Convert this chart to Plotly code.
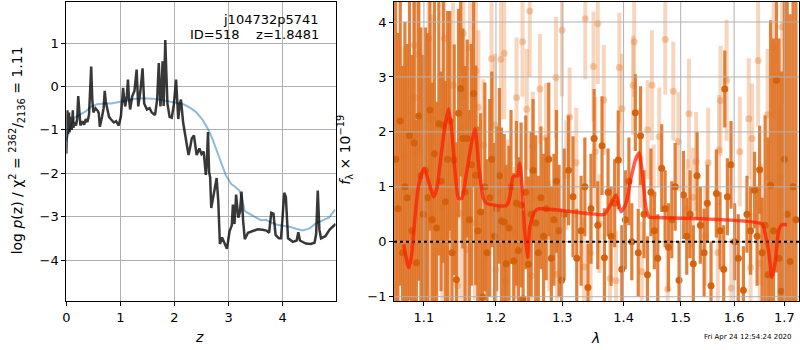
import plotly.graph_objects as go

# ---------------- left panel data ----------------
z_lnp = [0.00, 0.01, 0.02, 0.03, 0.05, 0.06, 0.08, 0.10, 0.12, 0.13, 0.15, 0.18, 0.20, 0.22, 0.24, 0.26,
         0.30, 0.33, 0.36, 0.39, 0.42, 0.44, 0.46, 0.48, 0.50, 0.54, 0.58, 0.60, 0.62, 0.66, 0.69, 0.71,
         0.73, 0.76, 0.79, 0.82, 0.88, 0.92, 0.97, 1.01, 1.03, 1.05, 1.07, 1.09, 1.12, 1.14, 1.16, 1.18,
         1.22, 1.26, 1.30, 1.33, 1.37, 1.41, 1.44, 1.49, 1.54, 1.58, 1.64, 1.68, 1.71, 1.74, 1.76, 1.78,
         1.80, 1.83, 1.85, 1.87, 1.91, 1.95, 1.99, 2.03, 2.05, 2.07, 2.10, 2.12, 2.16, 2.21, 2.26, 2.29,
         2.32, 2.36, 2.41, 2.46, 2.50, 2.54, 2.58, 2.60, 2.62, 2.64, 2.66, 2.68, 2.72, 2.75, 2.78, 2.81,
         2.84, 2.88, 2.92, 2.97, 3.02, 3.06, 3.08, 3.11, 3.14, 3.18, 3.21, 3.24, 3.27, 3.30, 3.36, 3.45,
         3.54, 3.63, 3.70, 3.75, 3.79, 3.83, 3.87, 3.93, 3.97, 4.00, 4.03, 4.06, 4.10, 4.19, 4.26, 4.29,
         4.32, 4.43, 4.52, 4.59, 4.62, 4.65, 4.68, 4.71, 4.79, 4.87, 4.98]
logp = [-1.55, -1.00, -0.55, -1.10, -0.60, -1.05, -0.70, -1.00, -0.55, -0.95, -0.82, -0.90, -0.75, -0.22, -0.50, -0.90,
        -0.80, -0.88, -0.75, -0.82, -0.65, -0.20, 0.46, -0.30, -0.60, -0.50, -0.56, -0.62, -0.93, -0.70, -0.50, -0.10,
        -0.35, -0.53, -0.70, -0.75, -0.83, -0.80, -0.90, -0.68, -0.35, -0.03, -0.30, -0.46, -0.20, 0.16, -0.30, -0.53,
        -0.22, -0.10, 0.39, -0.46, -0.10, 0.42, -0.39, -0.53, -0.50, -0.60, -0.66, -0.30, 0.54, -0.46, -0.10, 0.58,
        -0.45, 1.07, 0.30, -0.40, -0.70, -0.72, -0.40, 0.16, -0.30, -0.75, -0.40, -0.30, -0.83, -1.20, -1.58, -1.40,
        -1.20, -1.13, -1.58, -1.43, -1.56, -1.50, -2.04, -1.70, -1.05, -1.97, -2.10, -2.80, -2.50, -2.30, -2.11, -2.64,
        -3.63, -3.48, -3.60, -3.74, -3.33, -3.20, -2.72, -3.17, -2.49, -3.02, -2.90, -2.42, -3.10, -3.52, -3.37, -3.33,
        -3.29, -3.30, -3.32, -3.37, -2.91, -2.93, -3.42, -3.50, -3.50, -3.00, -2.45, -2.55, -3.50, -3.58, -3.55, -3.36,
        -3.55, -3.62, -3.63, -3.60, -3.40, -2.40, -3.30, -3.50, -3.45, -3.30, -3.17]

z_chi = [0.00, 0.05, 0.09, 0.15, 0.24, 0.35, 0.45, 0.57, 0.70, 0.83, 1.00, 1.19, 1.38, 1.60, 1.80, 2.00,
         2.17, 2.30, 2.40, 2.52, 2.62, 2.70, 2.77, 2.85, 2.95, 3.05, 3.11, 3.20, 3.25, 3.30, 3.40, 3.51,
         3.60, 3.69, 3.78, 3.88, 4.00, 4.12, 4.25, 4.37, 4.50, 4.61, 4.75, 4.86, 4.97]
chi_scaled = [-1.25, -1.05, -0.88, -0.72, -0.66, -0.58, -0.47, -0.41, -0.39, -0.39, -0.35, -0.30, -0.27, -0.28, -0.32, -0.36,
              -0.41, -0.50, -0.59, -0.77, -0.98, -1.20, -1.43, -1.72, -2.05, -2.25, -2.30, -2.40, -2.60, -2.87, -2.95, -3.02,
              -3.08, -3.07, -3.13, -3.18, -3.21, -3.23, -3.28, -3.32, -3.27, -3.16, -3.08, -3.02, -2.84]

left_xticks = [0, 1, 2, 3, 4]
left_yticks = [-4, -3, -2, -1, 0, 1]
left_xrange = [0, 4.98]
left_yrange = [-4.953, 1.957]

# ---------------- right panel data ----------------
lam_dark = [1.063, 1.066, 1.069, 1.072, 1.075, 1.078, 1.081, 1.084, 1.087, 1.090, 1.093, 1.096, 1.099,
            1.102, 1.105, 1.108, 1.111, 1.114, 1.117, 1.120, 1.123, 1.126, 1.129, 1.132, 1.135, 1.138, 1.141,
            1.144, 1.147, 1.150, 1.153, 1.156, 1.159, 1.162, 1.165, 1.168, 1.171, 1.174, 1.178, 1.181, 1.184,
            1.187, 1.191, 1.194, 1.198, 1.201, 1.205, 1.208, 1.212, 1.215, 1.219, 1.222, 1.226, 1.230, 1.233,
            1.237, 1.240, 1.244, 1.248, 1.252, 1.255, 1.259, 1.263, 1.267, 1.271, 1.275, 1.279, 1.283, 1.287,
            1.291, 1.295, 1.299,
            1.303, 1.310, 1.317, 1.323, 1.330, 1.336, 1.341, 1.346, 1.351, 1.357, 1.364, 1.368, 1.374, 1.379,
            1.385, 1.391, 1.397, 1.403, 1.409, 1.414, 1.420, 1.425, 1.429, 1.435, 1.441, 1.447, 1.453, 1.459,
            1.466, 1.472, 1.478, 1.484, 1.490, 1.497, 1.505, 1.511, 1.517, 1.523, 1.530, 1.536, 1.543, 1.549,
            1.556, 1.566, 1.573, 1.580, 1.582, 1.587, 1.594, 1.601, 1.608, 1.618, 1.625, 1.632, 1.640, 1.645,
            1.650, 1.655,
            1.661, 1.667, 1.672, 1.678, 1.684, 1.689, 1.694, 1.700, 1.706, 1.712, 1.718, 1.724]
flux_dark = [1.50, 0.60, 2.20, -0.20, 1.00, 0.80, 1.93, 0.20, 1.80, -0.38, 2.29, 1.20, 0.50,
             1.30, 0.80, 2.40, 0.40, 1.60, 0.25, 2.15, 1.10, 2.12, 0.73, 1.50, 2.20, -0.20, 1.49,
             -0.69, 2.34, 2.79, 1.88, 0.90, 1.88, 0.40, 1.40, 2.70, 1.21, 0.20, 0.54, -1.01, 1.00,
             -0.20, 0.80, 1.50, 0.10, 0.60, 1.20, 0.38, 0.36, -0.40, 0.25, 1.00, -0.35, 0.70, -0.16,
             0.67, -1.04, 0.90, -0.41, 0.50, 1.30, 0.34, -0.20, 0.80, 0.10, 0.60, 1.50, -0.30, 0.40,
             1.10, 0.20, -0.70,
             0.50, 1.30, 0.82, -0.30, 0.20, 1.00, -0.83, 0.60, 1.88, 0.30, 1.75, -0.29, 0.90, 0.10,
             0.70, 1.49, -0.50, 0.40, 1.10, 0.00, 2.35, -0.20, 1.93, 0.50, -0.60, 0.90, 0.20, -0.30,
             1.34, 0.60, -0.10, 0.40, 1.00, -0.70, 0.85, 0.10, 0.50, -0.40, 1.20, 0.30, -0.20, 0.70,
             -0.80, 0.88, 0.20, -0.50, 2.78, 0.82, 1.40, 0.00, -0.30, -0.88, 0.50, 0.20, 0.94, 0.10,
             1.31, -0.20,
             0.30, -0.60, 1.03, 0.20, 2.94, -0.30, -0.90, 1.50, 0.50, -0.36, 1.00, 0.40]
err_dark = [3.5, 3.2, 3.0, 3.4, 3.0, 2.8, 3.0, 3.2, 2.9, 2.6, 3.0, 2.7, 2.9,
            2.6, 3.0, 2.2, 2.5, 2.8, 2.3, 2.4, 2.0, 2.5, 2.2, 2.7, 2.0, 2.4, 2.1,
            2.5, 1.9, 1.6, 2.0, 2.3, 1.8, 2.0, 2.2, 1.7, 2.0, 1.9, 1.8, 1.6, 1.9,
            1.7, 1.8, 1.6, 1.7, 1.5, 1.6, 1.7, 1.6, 1.8, 1.5, 1.4, 1.6, 1.5, 1.7,
            1.5, 1.6, 1.4, 1.6, 1.5, 1.3, 1.6, 1.4, 1.3, 1.5, 1.3, 1.4, 1.3, 1.2,
            1.3, 1.2, 1.3,
            1.2, 1.0, 1.1, 0.9, 1.0, 0.9, 0.8, 1.0, 0.9, 0.8, 0.9, 0.9, 0.8, 0.9,
            0.8, 0.9, 0.8, 0.9, 0.8, 0.7, 0.7, 0.8, 0.9, 0.8, 0.7, 0.8, 0.7, 0.8,
            0.8, 0.7, 0.8, 0.7, 0.8, 0.7, 0.8, 0.7, 0.8, 0.7, 0.8, 0.7, 0.8, 0.7,
            0.8, 0.8, 0.7, 0.8, 0.7, 0.7, 0.8, 0.7, 0.8, 0.8, 0.7, 0.8, 0.7, 0.9,
            0.8, 1.0,
            2.0, 2.5, 3.0, 3.5, 3.5, 4.0, 4.0, 4.0, 4.0, 4.5, 4.5, 4.5]

lam_light = [1.0742, 1.0875, 1.0883, 1.0930, 1.1062, 1.1084, 1.1106, 1.1247, 1.1274, 1.1336, 1.1396, 1.1455,
             1.1514, 1.1537, 1.1584, 1.1630, 1.1700, 1.1714, 1.1748, 1.1819, 1.1937, 1.1985, 1.1999, 1.2024,
             1.2072, 1.2121, 1.2135, 1.2169, 1.2277, 1.2302, 1.2391, 1.2455, 1.2500, 1.2525, 1.2545, 1.2655,
             1.2747, 1.2798, 1.2902, 1.2920, 1.2996, 1.3064, 1.3116, 1.3222, 1.3346, 1.3367, 1.3452, 1.3500,
             1.3530, 1.3571, 1.3597, 1.3670, 1.3773, 1.3873, 1.3928, 1.3974, 1.4161, 1.4180, 1.4280, 1.4310,
             1.4413, 1.4488, 1.4517, 1.4616, 1.4723, 1.4766, 1.4866, 1.4957, 1.5129, 1.5150, 1.5221, 1.5282,
             1.5450, 1.5506, 1.5688, 1.5710, 1.5740, 1.5855, 1.5945, 1.6110, 1.6285, 1.6320, 1.6350, 1.6470,
             1.6502, 1.6530, 1.6660, 1.6781, 1.6918, 1.6952]
flux_light = [1.56, 3.58, 2.62, 3.41, 3.70, 0.46, 2.23, 0.63, 3.70, 0.13, 2.85, -0.80,
              0.52, 3.79, -0.14, 3.53, 0.34, 3.11, 2.45, 1.76, 3.33, 2.12, -0.51, 0.88,
              3.32, 3.43, -0.71, 0.76, 0.16, 2.62, 3.64, 2.41, 4.20, -0.62, 1.73, 2.78,
              1.89, 0.10, 2.99, -0.59, 3.85, 1.21, 2.27, 1.44, -0.46, 4.06, -0.20, 3.19,
              1.64, 3.97, 0.33, 2.58, -0.67, -0.71, 3.17, 2.42, 2.85, 3.64, 1.52, -0.54,
              2.04, 2.85, 0.87, 1.91, 3.68, -0.86, 2.74, 1.82, 0.60, 2.33, 0.81, 1.46,
              0.11, 1.44, -0.20, 1.67, 2.57, 2.94, -0.84, 1.64, 2.24, -0.47, 1.88, 3.30,
              -0.39, 0.32, 2.31, 3.54, 1.19, 3.91]
err_light = [2.0, 2.0, 2.2, 1.8, 1.5, 1.6, 1.9, 1.8, 1.4, 1.7, 1.5, 1.5,
             1.6, 1.2, 1.4, 1.3, 1.4, 1.3, 1.4, 1.2, 1.2, 1.3, 1.3, 1.2,
             1.1, 1.2, 1.2, 1.1, 1.2, 1.1, 1.0, 1.1, 1.2, 1.1, 1.0, 1.0,
             1.0, 1.0, 1.1, 1.0, 1.2, 1.0, 0.9, 1.0, 0.9, 1.1, 0.9, 1.0,
             1.0, 1.1, 0.9, 1.0, 0.9, 0.9, 1.0, 1.0, 0.9, 1.0, 0.9, 0.9,
             0.9, 1.0, 0.9, 0.9, 1.0, 0.9, 0.9, 0.9, 0.9, 1.0, 0.9, 0.9,
             0.9, 1.0, 0.9, 1.0, 1.0, 1.1, 0.9, 1.0, 1.1, 1.0, 1.0, 1.2,
             1.0, 1.1, 1.2, 1.3, 1.3, 1.4]

lam_model = [1.0735, 1.0800, 1.0833, 1.0885, 1.0930, 1.1003, 1.1062, 1.1129, 1.1173, 1.1231, 1.1285, 1.1332,
             1.1377, 1.1422, 1.1469, 1.1514, 1.1584, 1.1654, 1.1700, 1.1756, 1.1819, 1.1866, 1.2154, 1.2203,
             1.2253, 1.2316, 1.2350, 1.2386, 1.2425, 1.2465, 1.2500, 1.2575, 1.2631, 1.3462, 1.3680, 1.3790,
             1.3873, 1.3957, 1.4041, 1.4126, 1.4211, 1.4267, 1.4326, 1.4383, 1.4440, 1.4587, 1.6549, 1.6615,
             1.6681, 1.6749, 1.6816, 1.6883, 1.6952, 1.7054]
flux_model = [-0.05, -0.47, -0.29, 0.49, 1.03, 1.34, 1.10, 0.82, 0.97, 1.58, 2.12, 2.42,
              2.00, 1.28, 0.79, 0.79, 1.28, 1.82, 2.06, 1.34, 0.79, 0.70, 0.66, 0.82,
              1.19, 1.20, 1.43, 0.98, 0.19, -0.29, 0.26, 0.55, 0.60, 0.51, 0.50, 0.70,
              0.85, 0.55, 0.70, 1.16, 1.52, 1.62, 1.20, 0.62, 0.45, 0.44, 0.32, 0.13,
              -0.17, -0.65, -0.36, 0.20, 0.31, 0.31]

right_xticks = [1.1, 1.2, 1.3, 1.4, 1.5, 1.6, 1.7]
right_yticks = [-1, 0, 1, 2, 3, 4]
lam_range = [1.0610, 1.7304]
flux_range = [-1.085, 4.372]

FONT = "DejaVu Sans"
GRID = "#b0b0b0"

fig = go.Figure()

# left panel
fig.add_trace(go.Scatter(x=z_chi, y=chi_scaled, mode="lines",
                         line=dict(color="rgba(31,119,180,0.5)", width=2),
                         xaxis="x", yaxis="y", showlegend=False, hoverinfo="skip"))
fig.add_trace(go.Scatter(x=z_lnp, y=logp, mode="lines",
                         line=dict(color="rgba(0,0,0,0.78)", width=2.5),
                         xaxis="x", yaxis="y", showlegend=False, hoverinfo="skip"))

# right panel
fig.add_trace(go.Scatter(x=lam_light, y=flux_light, mode="markers",
                         marker=dict(color="rgba(232,130,55,0.40)", size=7, line=dict(width=0)),
                         error_y=dict(type="data", array=err_light, color="rgba(232,130,55,0.33)",
                                      thickness=4, width=0),
                         xaxis="x2", yaxis="y2", showlegend=False, hoverinfo="skip"))
fig.add_trace(go.Scatter(x=lam_dark, y=flux_dark, mode="markers",
                         marker=dict(color="rgba(212,95,10,0.95)", size=7, line=dict(width=0)),
                         error_y=dict(type="data", array=err_dark, color="rgba(222,112,32,0.88)",
                                      thickness=3.2, width=0),
                         xaxis="x2", yaxis="y2", showlegend=False, hoverinfo="skip"))

# grid lines of the right panel, drawn over the data as in the reference
for v in right_xticks:
    fig.add_trace(go.Scatter(x=[v, v], y=flux_range, mode="lines",
                             line=dict(color=GRID, width=1),
                             xaxis="x2", yaxis="y2", showlegend=False, hoverinfo="skip"))
for v in right_yticks:
    fig.add_trace(go.Scatter(x=lam_range, y=[v, v], mode="lines",
                             line=dict(color=GRID, width=1),
                             xaxis="x2", yaxis="y2", showlegend=False, hoverinfo="skip"))
fig.add_trace(go.Scatter(x=lam_range, y=[0, 0], mode="lines",
                         line=dict(color="black", width=2, dash="dot"),
                         xaxis="x2", yaxis="y2", showlegend=False, hoverinfo="skip"))

fig.add_trace(go.Scatter(x=lam_model, y=flux_model, mode="lines",
                         line=dict(color="rgba(255,25,0,0.7)", width=3.5, shape="spline", smoothing=0.6),
                         xaxis="x2", yaxis="y2", showlegend=False, hoverinfo="skip"))

axis_common = dict(showline=True, linecolor="black", linewidth=1, mirror=True,
                   ticks="outside", ticklen=4, tickcolor="black", tickwidth=1,
                   tickfont=dict(family=FONT, size=13, color="black"),
                   zeroline=False)

fig.update_layout(
    width=800, height=350,
    margin=dict(l=0, r=0, t=0, b=0),
    paper_bgcolor="white", plot_bgcolor="white",
    font=dict(family=FONT, color="black"),
    xaxis=dict(domain=[0.0783, 0.4166], range=left_xrange, tickvals=left_xticks,
               showgrid=True, gridcolor=GRID, gridwidth=1, anchor="y", **axis_common),
    yaxis=dict(domain=[0.1314, 0.9955], range=left_yrange, tickvals=left_yticks,
               showgrid=True, gridcolor=GRID, gridwidth=1, anchor="x", **axis_common),
    xaxis2=dict(domain=[0.49, 0.99875], type="log",
                range=[0.025715, 0.238147], tickvals=right_xticks,
                ticktext=[f"{v:.1f}" for v in right_xticks],
                showgrid=False, anchor="y2", **axis_common),
    yaxis2=dict(domain=[0.1314, 0.9955], range=flux_range, tickvals=right_yticks,
                showgrid=False, anchor="x2", **axis_common),
    annotations=[
        dict(text="j104732p5741", x=0.39875, y=0.943, xref="paper", yref="paper",
             xanchor="right", yanchor="middle", showarrow=False,
             font=dict(family=FONT, size=13, color="black")),
        dict(text="ID=518\u00a0\u00a0\u00a0\u00a0z=1.8481", x=0.39875, y=0.900, xref="paper", yref="paper",
             xanchor="right", yanchor="middle", showarrow=False,
             font=dict(family=FONT, size=13, color="black")),
        dict(text="<i>z</i>", x=0.246, y=0.028, xref="paper", yref="paper",
             xanchor="center", yanchor="middle", showarrow=False,
             font=dict(family=FONT, size=14, color="black")),
        dict(text="log <i>p</i>(z) / χ<sup>2</sup> = <sup>2362</sup>/<sub>2136</sub> = 1.11",
             x=0.016, y=0.566, xref="paper", yref="paper", textangle=-90,
             xanchor="center", yanchor="middle", showarrow=False,
             font=dict(family=FONT, size=14, color="black")),
        dict(text="<i>f</i><sub>λ</sub> × 10<sup>−19</sup>",
             x=0.429, y=0.57, xref="paper", yref="paper", textangle=-90,
             xanchor="center", yanchor="middle", showarrow=False,
             font=dict(family=FONT, size=14, color="black")),
        dict(text="<i>λ</i>", x=0.7425, y=0.026, xref="paper", yref="paper",
             xanchor="center", yanchor="middle", showarrow=False,
             font=dict(family=FONT, size=14, color="black")),
        dict(text="Fri Apr 24 12:54:24 2020", x=0.935, y=0.03, xref="paper", yref="paper",
             xanchor="center", yanchor="middle", showarrow=False,
             font=dict(family=FONT, size=7, color="black")),
    ],
)

fig.write_html("out.html")
